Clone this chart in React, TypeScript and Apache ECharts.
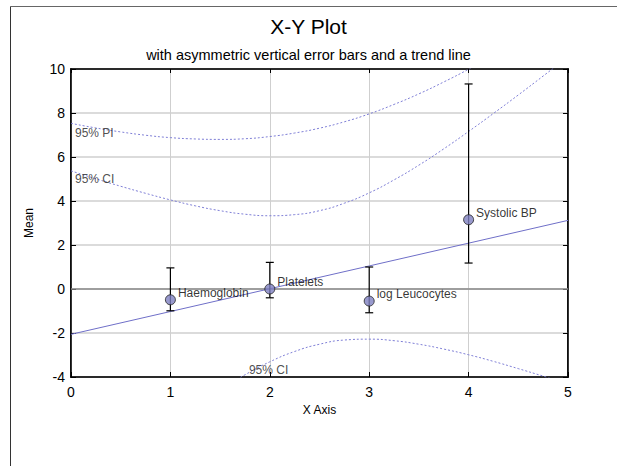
import React, { useEffect, useRef } from "react";
import * as echarts from "echarts";

const pointNames = ["Haemoglobin", "Platelets", "log Leucocytes", "Systolic BP"];
const pointX = [1, 2, 3, 4];
const pointMean = [-0.49, 0.0, -0.55, 3.15];
const errLow = [-0.99, -0.4, -1.08, 1.18];
const errHigh = [0.96, 1.21, 1.0, 9.32];

const trendX = [0, 5];
const trendY = [-2.06, 3.12];

const curveX = [0, 0.25, 0.5, 0.75, 1, 1.25, 1.5, 1.75, 2, 2.25, 2.5, 2.75, 3, 3.25, 3.5, 3.75, 4, 4.25, 4.5, 4.75, 5];
const upperPI = [7.53, 7.32, 7.14, 6.99, 6.88, 6.82, 6.8, 6.83, 6.93, 7.09, 7.31, 7.6, 7.96, 8.39, 8.87, 9.41, 9.99, 10.62, 11.29, 11.99, 12.71];
const upperCI = [5.37, 5.01, 4.67, 4.35, 4.05, 3.78, 3.56, 3.4, 3.33, 3.38, 3.56, 3.9, 4.37, 4.96, 5.63, 6.37, 7.16, 7.98, 8.82, 9.68, 10.55];
const lowerCI = [-9.5, -8.62, -7.76, -6.92, -6.1, -5.32, -4.58, -3.9, -3.31, -2.84, -2.51, -2.32, -2.28, -2.35, -2.51, -2.73, -2.99, -3.29, -3.62, -3.96, -4.31];

const curveLabels = ["95% PI", "95% CI", "95% CI"];
const curveLabelPos = [
  [0.04, 7.1],
  [0.04, 4.98],
  [1.79, -3.68],
];

const xTicks = { min: 0, max: 5, interval: 1 };
const yTicks = { min: -4, max: 10, interval: 2 };

const FONT = "Liberation Sans, Arial, sans-serif";

export default function App() {
  const ref = useRef<HTMLDivElement>(null);
  useEffect(() => {
    if (!ref.current) return;
    const chart = echarts.init(ref.current, undefined, { renderer: "svg" });
    const curveStyle = { color: "#7f7fd6", width: 1, type: [2, 2] as any };
    const frameAxisLine = { show: true, onZero: false, lineStyle: { color: "#000", width: 1.5 } };
    const option: any = {
      animation: false,
      backgroundColor: "#ffffff",
      textStyle: { fontFamily: FONT },
      title: [
        {
          text: "X-Y Plot",
          left: "center",
          top: 11,
          textStyle: { fontFamily: FONT, fontSize: 21, fontWeight: "normal", color: "#000" },
        },
        {
          text: "with asymmetric vertical error bars and a trend line",
          left: "center",
          top: 42,
          textStyle: { fontFamily: FONT, fontSize: 14.5, fontWeight: "normal", color: "#000" },
        },
      ],
      graphic: [
        { type: "line", shape: { x1: 10.5, y1: 6.5, x2: 617, y2: 6.5 }, style: { stroke: "#666", lineWidth: 1 } },
        { type: "line", shape: { x1: 10.5, y1: 6.5, x2: 10.5, y2: 466 }, style: { stroke: "#333", lineWidth: 1 } },
      ],
      grid: { left: 71, right: 49, top: 69, bottom: 89, show: true, borderColor: "#000", borderWidth: 1.5, backgroundColor: "transparent" },
      xAxis: [
        {
          type: "value",
          ...xTicks,
          name: "X Axis",
          nameLocation: "middle",
          nameGap: 26,
          nameTextStyle: { fontFamily: FONT, fontSize: 12, color: "#000" },
          axisLine: frameAxisLine,
          axisTick: { show: true, inside: true, length: 5, lineStyle: { color: "#000" } },
          axisLabel: { fontFamily: FONT, fontSize: 14, color: "#000", margin: 8 },
          splitLine: { show: true, lineStyle: { color: "#cfcfcf", width: 1 } },
        },
        {
          type: "value",
          ...xTicks,
          position: "top",
          axisLine: frameAxisLine,
          axisTick: { show: true, inside: true, length: 4, lineStyle: { color: "#000" } },
          axisLabel: { show: false },
          splitLine: { show: false },
        },
      ],
      yAxis: [
        {
          type: "value",
          ...yTicks,
          name: "Mean",
          nameLocation: "middle",
          nameGap: 36,
          nameTextStyle: { fontFamily: FONT, fontSize: 12, color: "#000" },
          axisLine: frameAxisLine,
          axisTick: { show: true, inside: true, length: 5, lineStyle: { color: "#000" } },
          axisLabel: { fontFamily: FONT, fontSize: 14, color: "#000", margin: 6 },
          splitLine: { show: true, lineStyle: { color: "#cfcfcf", width: 1.5 } },
        },
        {
          type: "value",
          ...yTicks,
          position: "right",
          axisLine: frameAxisLine,
          axisTick: { show: true, inside: true, length: 5, lineStyle: { color: "#000" } },
          axisLabel: { show: false },
          splitLine: { show: false },
        },
      ],
      series: [
        {
          type: "line",
          data: [
            [xTicks.min, 0],
            [xTicks.max, 0],
          ],
          symbol: "none",
          lineStyle: { color: "#8a8a8a", width: 1.5 },
          silent: true,
          z: 1,
        },
        {
          type: "line",
          data: curveX.map((x, i) => [x, upperPI[i]]),
          smooth: true,
          symbol: "none",
          lineStyle: curveStyle,
          clip: true,
          z: 2,
        },
        {
          type: "line",
          data: curveX.map((x, i) => [x, upperCI[i]]),
          smooth: true,
          symbol: "none",
          lineStyle: curveStyle,
          clip: true,
          z: 2,
        },
        {
          type: "line",
          data: curveX.map((x, i) => [x, lowerCI[i]]),
          smooth: true,
          symbol: "none",
          lineStyle: curveStyle,
          clip: true,
          z: 2,
        },
        {
          type: "line",
          data: trendX.map((x, i) => [x, trendY[i]]),
          symbol: "none",
          lineStyle: { color: "#6f6fc8", width: 1 },
          z: 3,
        },
        {
          type: "custom",
          data: pointX.map((x, i) => [x, errLow[i], errHigh[i]]),
          renderItem: (params: any, api: any) => {
            const x = api.value(0);
            const lo = api.coord([x, api.value(1)]);
            const hi = api.coord([x, api.value(2)]);
            const cap = 4;
            const st = { stroke: "#000", lineWidth: 1.2 };
            return {
              type: "group",
              children: [
                { type: "line", shape: { x1: lo[0], y1: lo[1], x2: hi[0], y2: hi[1] }, style: st },
                { type: "line", shape: { x1: hi[0] - cap, y1: hi[1], x2: hi[0] + cap, y2: hi[1] }, style: st },
                { type: "line", shape: { x1: lo[0] - cap, y1: lo[1], x2: lo[0] + cap, y2: lo[1] }, style: st },
              ],
            };
          },
          z: 4,
        },
        {
          type: "scatter",
          data: pointX.map((x, i) => ({ value: [x, pointMean[i]], name: pointNames[i] })),
          symbol: "circle",
          symbolSize: 10,
          itemStyle: { color: "#7e80c0", borderColor: "#222", borderWidth: 1 },
          label: {
            show: true,
            position: "right",
            distance: 2,
            offset: [0, -7],
            formatter: "{b}",
            fontFamily: FONT,
            fontSize: 12,
            color: "#000",
          },
          z: 5,
        },
        {
          type: "scatter",
          data: curveLabelPos.map((p, i) => ({ value: p, name: curveLabels[i] })),
          symbolSize: 0,
          silent: true,
          label: {
            show: true,
            position: "right",
            distance: 0,
            formatter: "{b}",
            fontFamily: FONT,
            fontSize: 12,
            color: "#222",
          },
          z: 6,
        },
      ],
    };
    chart.setOption(option);
    return () => chart.dispose();
  }, []);
  return (
    <div
      ref={ref}
      style={{ position: "fixed", left: 0, top: 0, width: 617, height: 466, background: "#fff" }}
    />
  );
}
